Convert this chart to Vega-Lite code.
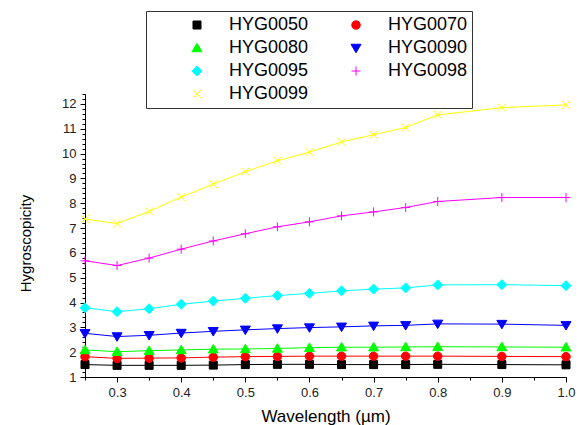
{
  "$schema": "https://vega.github.io/schema/vega-lite/v6.json",
  "width": 481,
  "height": 283,
  "autosize": "none",
  "padding": {"left": 85, "top": 94, "right": 14, "bottom": 48},
  "background": "white",
  "config": {"view": {"stroke": null}, "font": "Liberation Sans",
    "legend": {"title": null, "orient": "none", "legendX": 61, "legendY": -83, "columns": 2, "direction": "horizontal",
      "symbolSize": 100, "clipHeight": 20, "symbolOffset": 38, "labelOffset": 23, "labelFontSize": 18, "labelColor": "black", "labelFont": "Liberation Sans",
      "padding": 4, "rowPadding": 3, "columnPadding": -8, "fillColor": "white", "strokeColor": "#333", "symbolStrokeWidth": 1}},
  "data": {"values": [
    {"s":"HYG0050","w":0.25,"h":1.50},{"s":"HYG0050","w":0.3,"h":1.47},{"s":"HYG0050","w":0.35,"h":1.47},{"s":"HYG0050","w":0.4,"h":1.47},{"s":"HYG0050","w":0.45,"h":1.48},{"s":"HYG0050","w":0.5,"h":1.50},{"s":"HYG0050","w":0.55,"h":1.51},{"s":"HYG0050","w":0.6,"h":1.51},{"s":"HYG0050","w":0.65,"h":1.50},{"s":"HYG0050","w":0.7,"h":1.50},{"s":"HYG0050","w":0.75,"h":1.50},{"s":"HYG0050","w":0.8,"h":1.51},{"s":"HYG0050","w":0.9,"h":1.50},{"s":"HYG0050","w":1.0,"h":1.49},
    {"s":"HYG0070","w":0.25,"h":1.82},{"s":"HYG0070","w":0.3,"h":1.75},{"s":"HYG0070","w":0.35,"h":1.76},{"s":"HYG0070","w":0.4,"h":1.77},{"s":"HYG0070","w":0.45,"h":1.80},{"s":"HYG0070","w":0.5,"h":1.82},{"s":"HYG0070","w":0.55,"h":1.83},{"s":"HYG0070","w":0.6,"h":1.84},{"s":"HYG0070","w":0.65,"h":1.84},{"s":"HYG0070","w":0.7,"h":1.84},{"s":"HYG0070","w":0.75,"h":1.84},{"s":"HYG0070","w":0.8,"h":1.84},{"s":"HYG0070","w":0.9,"h":1.83},{"s":"HYG0070","w":1.0,"h":1.82},
    {"s":"HYG0080","w":0.25,"h":2.09},{"s":"HYG0080","w":0.3,"h":2.02},{"s":"HYG0080","w":0.35,"h":2.06},{"s":"HYG0080","w":0.4,"h":2.09},{"s":"HYG0080","w":0.45,"h":2.12},{"s":"HYG0080","w":0.5,"h":2.13},{"s":"HYG0080","w":0.55,"h":2.15},{"s":"HYG0080","w":0.6,"h":2.18},{"s":"HYG0080","w":0.65,"h":2.20},{"s":"HYG0080","w":0.7,"h":2.20},{"s":"HYG0080","w":0.75,"h":2.21},{"s":"HYG0080","w":0.8,"h":2.22},{"s":"HYG0080","w":0.9,"h":2.21},{"s":"HYG0080","w":1.0,"h":2.20},
    {"s":"HYG0090","w":0.25,"h":2.76},{"s":"HYG0090","w":0.3,"h":2.63},{"s":"HYG0090","w":0.35,"h":2.68},{"s":"HYG0090","w":0.4,"h":2.77},{"s":"HYG0090","w":0.45,"h":2.84},{"s":"HYG0090","w":0.5,"h":2.90},{"s":"HYG0090","w":0.55,"h":2.95},{"s":"HYG0090","w":0.6,"h":2.99},{"s":"HYG0090","w":0.65,"h":3.02},{"s":"HYG0090","w":0.7,"h":3.06},{"s":"HYG0090","w":0.75,"h":3.08},{"s":"HYG0090","w":0.8,"h":3.14},{"s":"HYG0090","w":0.9,"h":3.13},{"s":"HYG0090","w":1.0,"h":3.08},
    {"s":"HYG0095","w":0.25,"h":3.79},{"s":"HYG0095","w":0.3,"h":3.63},{"s":"HYG0095","w":0.35,"h":3.75},{"s":"HYG0095","w":0.4,"h":3.93},{"s":"HYG0095","w":0.45,"h":4.06},{"s":"HYG0095","w":0.5,"h":4.17},{"s":"HYG0095","w":0.55,"h":4.28},{"s":"HYG0095","w":0.6,"h":4.37},{"s":"HYG0095","w":0.65,"h":4.47},{"s":"HYG0095","w":0.7,"h":4.54},{"s":"HYG0095","w":0.75,"h":4.59},{"s":"HYG0095","w":0.8,"h":4.71},{"s":"HYG0095","w":0.9,"h":4.72},{"s":"HYG0095","w":1.0,"h":4.68},
    {"s":"HYG0098","w":0.25,"h":5.68},{"s":"HYG0098","w":0.3,"h":5.49},{"s":"HYG0098","w":0.35,"h":5.79},{"s":"HYG0098","w":0.4,"h":6.15},{"s":"HYG0098","w":0.45,"h":6.48},{"s":"HYG0098","w":0.5,"h":6.77},{"s":"HYG0098","w":0.55,"h":7.05},{"s":"HYG0098","w":0.6,"h":7.25},{"s":"HYG0098","w":0.65,"h":7.49},{"s":"HYG0098","w":0.7,"h":7.65},{"s":"HYG0098","w":0.75,"h":7.83},{"s":"HYG0098","w":0.8,"h":8.07},{"s":"HYG0098","w":0.9,"h":8.23},{"s":"HYG0098","w":1.0,"h":8.23},
    {"s":"HYG0099","w":0.25,"h":7.36},{"s":"HYG0099","w":0.3,"h":7.18},{"s":"HYG0099","w":0.35,"h":7.67},{"s":"HYG0099","w":0.4,"h":8.25},{"s":"HYG0099","w":0.45,"h":8.77},{"s":"HYG0099","w":0.5,"h":9.27},{"s":"HYG0099","w":0.55,"h":9.71},{"s":"HYG0099","w":0.6,"h":10.06},{"s":"HYG0099","w":0.65,"h":10.47},{"s":"HYG0099","w":0.7,"h":10.76},{"s":"HYG0099","w":0.75,"h":11.05},{"s":"HYG0099","w":0.8,"h":11.56},{"s":"HYG0099","w":0.9,"h":11.85},{"s":"HYG0099","w":1.0,"h":11.96}
  ]},
  "layer": [
    {
      "mark": {"type": "line", "strokeWidth": 1},
      "encoding": {
        "x": {"field": "w", "type": "quantitative", "scale": {"domain": [0.25, 1.0], "nice": false, "zero": false},
          "axis": {"orient": "bottom", "values": [0.3,0.4,0.5,0.6,0.7,0.8,0.9,1.0], "format": ".1f", "grid": false,
            "title": "Wavelength (µm)", "titleFont": "Liberation Sans", "titleFontSize": 17, "titleFontWeight": "normal", "titleColor": "black",
            "titleBaseline": "alphabetic", "titleY": 44,
            "labelFont": "Liberation Sans", "labelFontSize": 13, "labelColor": "#222", "labelPadding": 4, "labelFlush": false,
            "tickSize": 5, "tickColor": "black", "domainColor": "black", "tickWidth": 1, "domainWidth": 1}},
        "y": {"field": "h", "type": "quantitative", "scale": {"domain": [1, 12.4], "nice": false, "zero": false},
          "axis": {"orient": "left", "values": [1,2,3,4,5,6,7,8,9,10,11,12], "grid": false,
            "title": "Hygroscopicity", "titleFont": "Liberation Sans", "titleFontSize": 15, "titleFontWeight": "normal", "titleColor": "black",
            "titleAngle": 270, "titleBaseline": "alphabetic", "titleX": -55, "titleY": 149,
            "labelFont": "Liberation Sans", "labelFontSize": 13, "labelColor": "#222", "labelPadding": 4, "labelFlush": false,
            "tickSize": 5, "tickColor": "black", "domainColor": "black", "tickWidth": 1, "domainWidth": 1}},
        "color": {"field": "s", "type": "nominal", "title": null,
          "scale": {"domain": ["HYG0050","HYG0070","HYG0080","HYG0090","HYG0095","HYG0098","HYG0099"],
                    "range": ["#000000","#ff0000","#00ff00","#0000ff","#00ffff","#ff00ff","#ffff00"]}}
      }
    },
    {
      "mark": {"type": "point", "filled": true, "size": 100, "strokeWidth": 1, "opacity": 1},
      "encoding": {
        "x": {"field": "w", "type": "quantitative",
          "axis": {"orient": "bottom", "values": [0.25,0.35,0.45,0.55,0.65,0.75,0.85,0.95], "labels": false, "title": null, "grid": false,
            "tickSize": 3, "tickColor": "black", "domainColor": "black"}},
        "y": {"field": "h", "type": "quantitative",
          "axis": {"orient": "left", "values": [1.2,1.4,1.6,1.8,2.2,2.4,2.6,2.8,3.2,3.4,3.6,3.8,4.2,4.4,4.6,4.8,5.2,5.4,5.6,5.8,6.2,6.4,6.6,6.8,7.2,7.4,7.6,7.8,8.2,8.4,8.6,8.8,9.2,9.4,9.6,9.8,10.2,10.4,10.6,10.8,11.2,11.4,11.6,11.8,12.2,12.4], "labels": false, "title": null, "grid": false,
            "tickSize": 3, "tickColor": "black", "domainColor": "black"}},
        "fill": {"field": "s", "type": "nominal", "title": null,
          "scale": {"domain": ["HYG0050","HYG0070","HYG0080","HYG0090","HYG0095","HYG0098","HYG0099"],
                    "range": ["#000000","#ff0000","#00ff00","#0000ff","#00ffff","#ff00ff","#ffff00"]}},
        "stroke": {"field": "s", "type": "nominal", "title": null,
          "scale": {"domain": ["HYG0050","HYG0070","HYG0080","HYG0090","HYG0095","HYG0098","HYG0099"],
                    "range": ["#000000","#ff0000","#00ff00","#0000ff","#00ffff","#ff00ff","#ffff00"]}},
        "shape": {"field": "s", "type": "nominal", "title": null,
          "scale": {"domain": ["HYG0050","HYG0070","HYG0080","HYG0090","HYG0095","HYG0098","HYG0099"],
                    "range": ["M-0.8,-0.8H0.8V0.8H-0.8Z","M-0.85,0A0.85,0.85,0,1,0,0.85,0A0.85,0.85,0,1,0,-0.85,0Z","M0,-0.95L1,0.75L-1,0.75Z","M0,0.95L1,-0.75L-1,-0.75Z","M0,-1L1,0L0,1L-1,0Z","M-0.9,0H0.9M0,-0.9V0.9","M-0.8,-0.8L0.8,0.8M-0.8,0.8L0.8,-0.8"]}}
      }
    }
  ],
  "resolve": {"axis": {"x": "independent", "y": "independent"}}
}
